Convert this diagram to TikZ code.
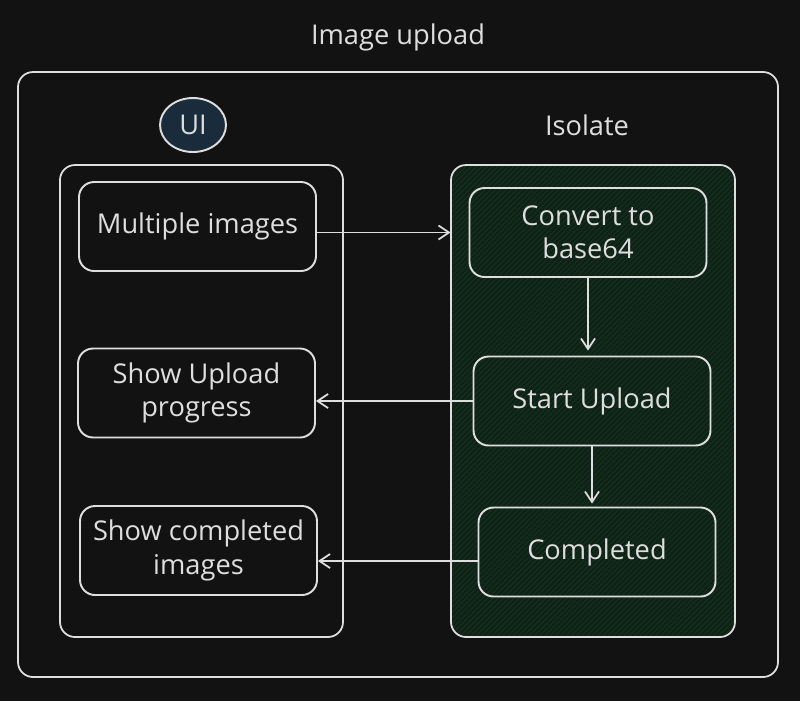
\documentclass[tikz,border=0pt]{standalone}
\usepackage{fontspec}
\setmainfont{Open Sans}
\usepackage{xcolor}
\usetikzlibrary{arrows.meta,patterns,shapes.geometric}
\definecolor{bg}{HTML}{121212}
\definecolor{ink}{HTML}{DEDEDE}
\definecolor{uifill}{HTML}{1A2B3B}
\definecolor{isofill}{HTML}{0F2218}
\definecolor{hatch}{HTML}{19331F}
\tikzset{
  box/.style={draw=ink, line width=1.1pt, rounded corners=0.3cm, align=center,
    minimum width=4.74cm, minimum height=1.78cm, inner sep=0pt,
    text=ink, font=\fontsize{15.5}{19}\selectfont},
  frame/.style={draw=ink, line width=1pt, rounded corners=0.3cm},
  arr/.style={draw=ink, line width=1pt, -{Straight Barb[length=6pt,width=8pt]}},
  caption/.style={text=ink, font=\fontsize{15.5}{19}\selectfont}
}
\begin{document}
\begin{tikzpicture}[x=0.02cm,y=-0.02cm]
    \useasboundingbox[fill=bg] (0,0) rectangle (800,701);

    % outer frame and title
    \draw[frame] (18,72) rectangle (778,677);
    \node[caption] (title) at (398,37) {Image upload};

    % containers
    \draw[frame] (60,165) rectangle (343,637);
    \fill[isofill, rounded corners=0.3cm, postaction={pattern=north east lines, pattern color=hatch}]
      (451,165) rectangle (735,637);
    \draw[frame] (451,165) rectangle (735,637);

    \node[caption, ellipse, draw=ink, line width=1.1pt, fill=uifill,
      minimum width=1.32cm, minimum height=1.08cm] (ui) at (193,125) {UI};
    \node[caption] (isolate) at (587,125) {Isolate};

    % UI side
    \node[box] (multi)    at (197.5,226.5) {Multiple images};
    \node[box] (progress) at (196.5,393)   {Show Upload\\progress};
    \node[box] (shown)    at (198.5,550.5) {Show completed\\images};

    % Isolate side
    \node[box] (convert)   at (588,232.5) {Convert to\\base64};
    \node[box] (start)     at (592,401)   {Start Upload};
    \node[box] (completed) at (597,552)   {Completed};

    % connectors
    \draw[arr, shorten >=0.36cm] (convert.west -| multi.east) -- (convert.west);
    \draw[arr, shorten >=0.1cm] (convert.south) -- (convert.south |- start.north);
    \draw[arr] (start.west) -- (start.west -| progress.east);
    \draw[arr, shorten >=0.06cm] (start.south) -- (start.south |- completed.north);
    \draw[arr] ([yshift=-0.18cm]completed.west) -- ([yshift=-0.18cm]completed.west -| shown.east);
\end{tikzpicture}
\end{document}
